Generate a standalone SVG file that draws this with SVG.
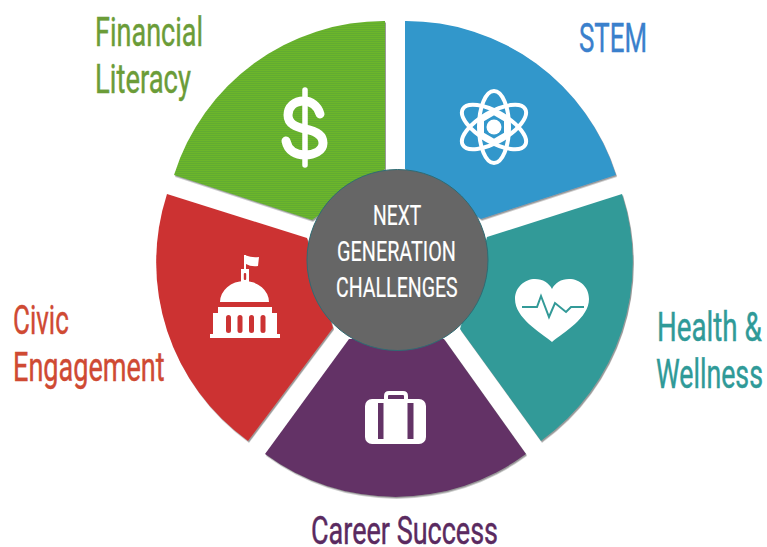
<svg xmlns="http://www.w3.org/2000/svg" width="767" height="547" viewBox="0 0 767 547">
<style>
text{font-family:Roboto,"Liberation Sans",sans-serif;font-weight:400;stroke-width:.45}
.lbl{font-size:41px}
.ctr{font-size:28px;fill:#fff;stroke:#fff;stroke-width:.2}
.w{filter:url(#sh)}
.ic{fill:#fff}
.ln{fill:none;stroke:#fff;stroke-linecap:round;stroke-linejoin:round}
.gt{fill:#6b9c38;stroke:#6b9c38}
.bt{fill:#3a80cc;stroke:#3a80cc}
.tt{fill:#2f9a98;stroke:#2f9a98}
.rt{fill:#cf4a33;stroke:#cf4a33}
.pt{fill:#5a2a60;stroke:#5a2a60}
</style>
<defs>
<filter id="sh" x="-5%" y="-5%" width="110%" height="110%"><feDropShadow dx="1" dy="1.5" stdDeviation="0.7" flood-color="#777" flood-opacity="0.75"/></filter>
<pattern id="gr" width="3" height="2" patternUnits="userSpaceOnUse"><rect width="3" height="2" fill="#6cb62c"/><rect y="1" width="3" height="1" fill="#62ab30"/></pattern>
</defs>
<rect width="767" height="547" fill="#fff"/>
<g id="connectors"/>
<g id="financial">
<path class="w" d="M385 21V169L312 220L174 175A220 220 0 0 1 385 21Z" fill="url(#gr)"/>
<path class="ln" d="M305 90V165" stroke-width="5.500"/>
<path class="ln" d="M320 114C318 106 311 101 304 101C294 101 288 107 288 115C288 124 296 127 305 129C316 131 323 135 323 143C323 151 314 155 305 155C296 155 288 151 286 141" stroke-width="9"/>
<text class="lbl gt" transform="translate(95 46) scale(.68 1)" textLength="159" lengthAdjust="spacingAndGlyphs">Financial</text>
<text class="lbl gt" transform="translate(95 93) scale(.68 1)" textLength="141" lengthAdjust="spacingAndGlyphs">Literacy</text>
</g>
<g id="stem">
<path class="w" d="M405 21A220 220 0 0 1 616 175L481 219L405 169Z" fill="#3097cb"/>
<g class="ln" stroke-width="4">
<ellipse cx="494" cy="127" rx="36" ry="15" transform="rotate(90 494 127)"/>
<ellipse cx="494" cy="127" rx="36" ry="15" transform="rotate(30 494 127)"/>
<ellipse cx="494" cy="127" rx="36" ry="15" transform="rotate(-30 494 127)"/>
<path d="M494 113L506 120V134L494 141L482 134V120Z"/>
</g>
<circle class="ic" cx="494" cy="127" r="7.500"/>
<text class="lbl bt" transform="translate(579 52) scale(.68 1)" textLength="100" lengthAdjust="spacingAndGlyphs">STEM</text>
</g>
<g id="health">
<path class="w" d="M622 194A220 220 0 0 1 541 441L460 329L487 237Z" fill="#339a98"/>
<path class="ic" d="M552 342C540 332 515 318 515 299C515 287 525 279 535 279C543 279 549 283 552 289C555 283 561 279 569 279C580 279 589 287 589 299C589 318 564 332 552 342Z"/>
<path d="M522 307H537L541 296L549 317L555 303L566 312L571 307H584" fill="none" stroke="#339a98" stroke-width="2"/>
<text class="lbl tt" transform="translate(657 341) scale(.68 1)" textLength="154" lengthAdjust="spacingAndGlyphs">Health &amp;</text>
<text class="lbl tt" transform="translate(656 388) scale(.652 1)" textLength="164" lengthAdjust="spacingAndGlyphs">Wellness</text>
</g>
<g id="career">
<path class="w" d="M349 339H444L526 454A220 220 0 0 1 265 454Z" fill="#633366"/>
<path d="M386 399V396Q386 393 389 393H403Q406 393 406 396V399" fill="none" stroke="#fff" stroke-width="4"/>
<rect class="ic" x="365" y="399" width="61" height="45" rx="7"/>
<rect x="378" y="403" width="5.500" height="36" fill="#633366"/>
<rect x="407.500" y="403" width="6" height="36" fill="#633366"/>
<text class="pt" transform="translate(311 544) scale(.714 1)" font-size="38" textLength="262" lengthAdjust="spacingAndGlyphs">Career Success</text>
</g>
<g id="civic">
<path class="w" d="M167 194L307 238L333 328L248 441A220 220 0 0 1 167 194Z" fill="#cc3333"/>
<path class="ic" d="M220 302A24.500 21 0 0 1 269 302ZM218 307H272V313H277V334H280V338H210V334H213V313H218Z"/>
<path class="ic" d="M241 282V269H244V255H246V269H249V282ZM246 255.500Q252 258 259 257L258 266Q251 267 246 264Z"/>
<rect x="243.800" y="273" width="2.400" height="7" rx="1" fill="#cc3333"/>
<g fill="#cc3333"><rect x="226" y="315" width="5" height="18" rx="2.500"/><rect x="237.500" y="315" width="5" height="18" rx="2.500"/><rect x="249" y="315" width="5" height="18" rx="2.500"/><rect x="260.500" y="315" width="5" height="18" rx="2.500"/></g>
<text class="lbl rt" transform="translate(13 334) scale(.68 1)" textLength="82" lengthAdjust="spacingAndGlyphs">Civic</text>
<text class="lbl rt" transform="translate(13 381) scale(.68 1)" textLength="223" lengthAdjust="spacingAndGlyphs">Engagement</text>
</g>
<g id="center">
<circle cx="397.500" cy="260" r="90.500" fill="#666" stroke="#2f6b73" stroke-width="1"/>
<text class="ctr" transform="translate(373 225) scale(.68 1)" textLength="71" lengthAdjust="spacingAndGlyphs">NEXT</text>
<text class="ctr" transform="translate(337 261) scale(.68 1)" textLength="175" lengthAdjust="spacingAndGlyphs">GENERATION</text>
<text class="ctr" transform="translate(336 297) scale(.68 1)" textLength="179" lengthAdjust="spacingAndGlyphs">CHALLENGES</text>
</g>
</svg>
